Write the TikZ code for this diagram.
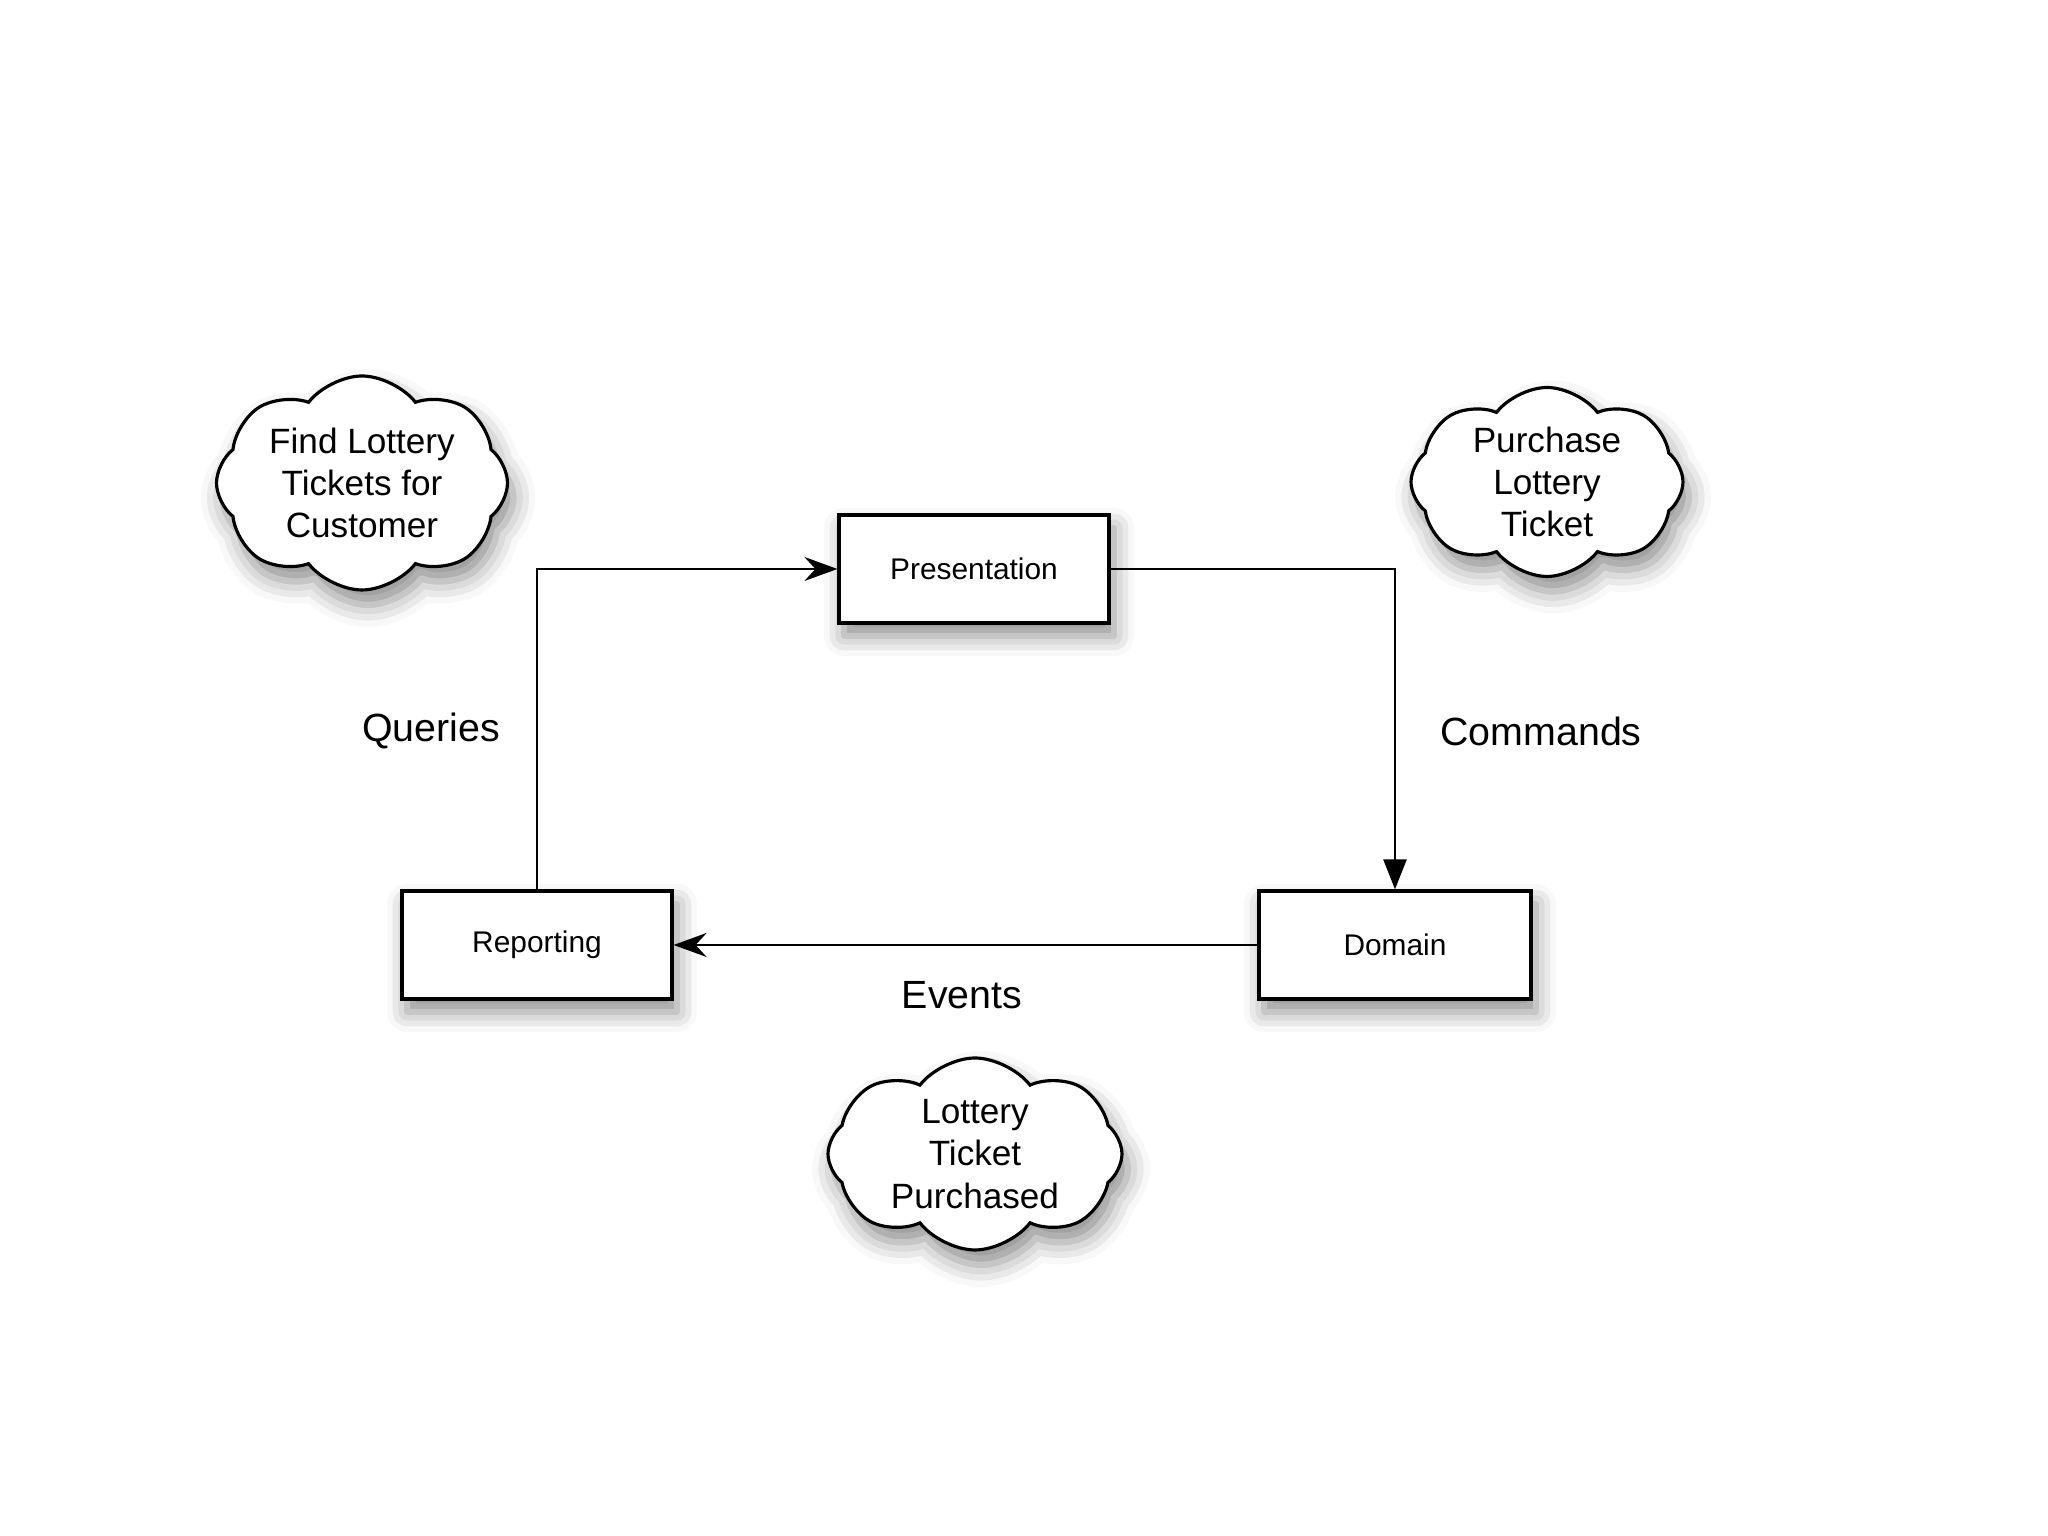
\documentclass[tikz,border=0pt]{standalone}
\usepackage{fontspec}
\setmainfont{Liberation Sans}
\usetikzlibrary{arrows.meta, positioning, shapes.symbols, shadows.blur}

\begin{document}
\begin{tikzpicture}[
  layer/.style={rectangle, draw, line width=0.9pt, fill=white, minimum width=27mm,
    minimum height=10.8mm, font=\fontsize{8.5}{10}\selectfont,
    blur shadow={shadow xshift=0.5mm, shadow yshift=-1.3mm, shadow blur radius=2mm, shadow opacity=45}},
  bubble/.style={cloud, cloud puffs=8, cloud puff arc=105, cloud ignores aspect, draw,
    line width=0.9pt, fill=white, inner sep=0pt, align=center,
    font=\fontsize{10}{12}\selectfont,
    blur shadow={shadow xshift=0.6mm, shadow yshift=-1.5mm, shadow blur radius=2.2mm, shadow opacity=45}},
  flow/.style={line width=0.7pt, -{Stealth[length=3.3mm, width=2.4mm, inset=1.1mm]}},
  push/.style={line width=0.7pt, -{Triangle[length=3mm, width=2.3mm]}},
  caption/.style={font=\fontsize{11.2}{13}\selectfont}
]
\useasboundingbox (0,0) rectangle (20.48,15.36);

\node[layer] (pres) at (9.74,9.67) {Presentation};
\node[layer] (rep) at (5.37,5.91) {Reporting};
\node[layer, minimum width=27.2mm] (dom) at (13.95,5.91) {Domain};

\node[bubble, minimum width=29.1mm, minimum height=21.4mm] (find) at (3.62,10.53)
  {Find Lottery\\Tickets for\\Customer};
\node[bubble, minimum width=27.2mm, minimum height=18.9mm] (buy) at (15.47,10.54)
  {Purchase\\Lottery\\Ticket};
\node[bubble, minimum width=29.4mm, minimum height=19.2mm] (bought) at (9.75,3.82)
  {Lottery\\Ticket\\Purchased};

\draw[flow] (rep.north) |- (pres.west);
\draw[push] (pres.east) -| (dom.north);
\draw[flow] (dom.west) -- (rep.east);

\node[caption] (qry) at (4.31,8.05) {Queries};
\node[caption] (cmd) at (15.41,8.05) {Commands};
\node[caption] (evt) at (9.62,5.41) {Events};
\end{tikzpicture}
\end{document}
